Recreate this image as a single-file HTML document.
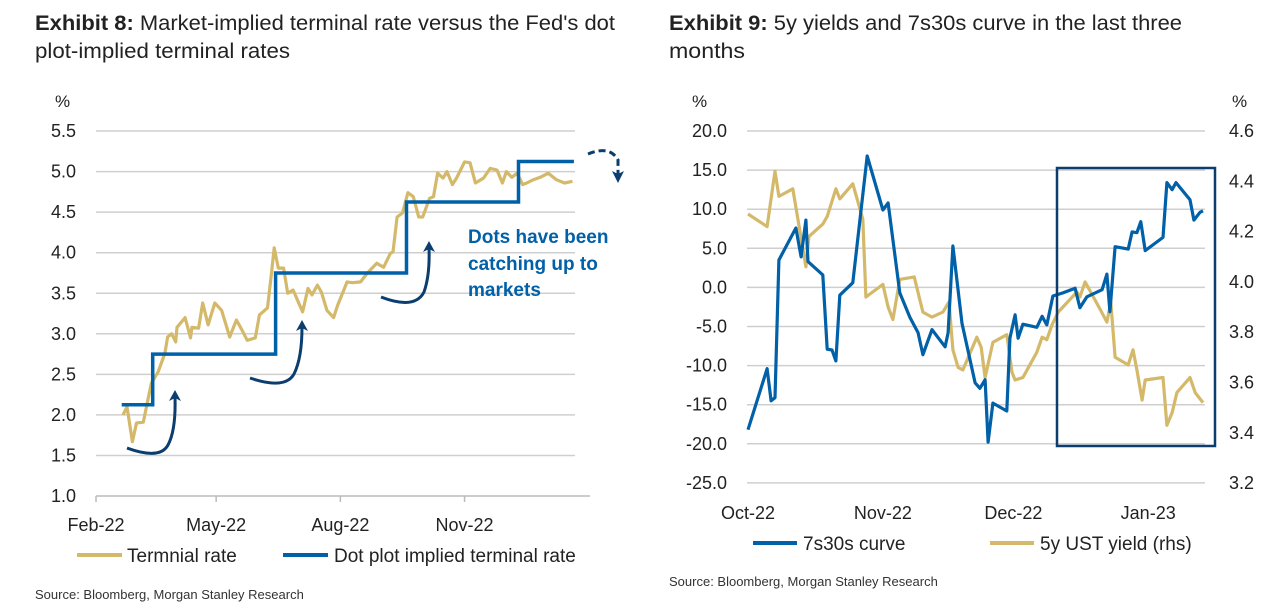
<!DOCTYPE html>
<html><head><meta charset="utf-8"><style>
body{margin:0;background:#fff;}
svg{display:block;font-family:"Liberation Sans Narrow","Liberation Sans",sans-serif;}
</style></head><body>
<svg id="c" width="1262" height="609" viewBox="0 0 1262 609">
<g fill="#222" font-size="21">
<text x="35" y="30" textLength="580" lengthAdjust="spacingAndGlyphs"><tspan font-weight="bold">Exhibit 8:</tspan>  Market-implied terminal rate versus the Fed's dot</text>
<text x="35" y="58" textLength="255" lengthAdjust="spacingAndGlyphs">plot-implied terminal rates</text>
</g>
<g fill="#222" font-size="21">
<text x="669" y="30" textLength="513" lengthAdjust="spacingAndGlyphs"><tspan font-weight="bold">Exhibit 9:</tspan>  5y yields and 7s30s curve in the last three</text>
<text x="669" y="58" textLength="76" lengthAdjust="spacingAndGlyphs">months</text>
</g>
<g id="left"></g>
<g id="right"></g>
<g font-size="19" fill="#222">
<line x1="77" y1="555" x2="122" y2="555" stroke="#d4b96a" stroke-width="4"/>
<text x="127" y="562">Termnial rate</text>
<line x1="283" y1="555" x2="328" y2="555" stroke="#0060a8" stroke-width="4"/>
<text x="334" y="562">Dot plot implied terminal rate</text>
</g>
<g font-size="19" fill="#222">
<line x1="753" y1="543" x2="797" y2="543" stroke="#0060a8" stroke-width="4"/>
<text x="803" y="550">7s30s curve</text>
<line x1="990" y1="543" x2="1034" y2="543" stroke="#d4b96a" stroke-width="4"/>
<text x="1040" y="550">5y UST yield (rhs)</text>
</g>
<text x="35" y="599" font-size="13" fill="#333">Source: Bloomberg, Morgan Stanley Research</text>
<text x="669" y="586" font-size="13" fill="#333">Source: Bloomberg, Morgan Stanley Research</text>
</svg>
<script>
// Left chart data (days since 1 Feb 2022)
const lTicks=[1.0,1.5,2.0,2.5,3.0,3.5,4.0,4.5,5.0,5.5];
const lMonths=["Feb-22","May-22","Aug-22","Nov-22"];
const lMonthDays=[0,89,181,273];
const termDays=[20,23,27,30,35,41,46,51,53,56,59,60,66,70,71,76,79,83,88,93,99,104,108,112,118,121,127,130,132,135,139,142,146,153,157,160,164,167,171,176,179,186,190,196,201,208,213,218,220,223,227,231,235,239,242,247,250,253,257,260,264,267,273,277,281,287,292,297,301,304,308,312,316,319,324,329,335,341,347,353];
const termVals=[2.0,2.1,1.67,1.9,1.91,2.39,2.53,2.76,2.96,3.0,2.9,3.08,3.2,2.95,3.08,3.07,3.38,3.11,3.38,3.29,2.96,3.17,3.05,2.92,2.95,3.23,3.32,3.75,4.06,3.81,3.81,3.5,3.54,3.27,3.56,3.48,3.6,3.51,3.29,3.2,3.35,3.64,3.63,3.64,3.75,3.87,3.82,3.99,4.01,4.44,4.49,4.74,4.69,4.44,4.44,4.67,4.69,4.98,4.92,5.0,4.84,4.92,5.12,5.11,4.86,4.92,5.04,5.02,4.86,5.0,4.93,4.98,4.84,4.86,4.9,4.93,4.98,4.9,4.86,4.88];
const dotDays=[19,42,133,230,313,354];
const dotVals=[2.125,2.75,3.75,4.625,5.125];
// Right chart data (days since 1 Oct 2022)
const rLeftTicks=[20,15,10,5,0,-5,-10,-15,-20,-25];
const rRightTicks=[4.6,4.4,4.2,4.0,3.8,3.6,3.4,3.2];
const rMonths=["Oct-22","Nov-22","Dec-22","Jan-23"];
const rMonthDays=[0,31,61,92];
const curveDays=[0,4.4,5.3,6.2,7.1,11,12.2,13.3,13.8,17.2,18.2,19.3,20.2,21.1,24.1,27.4,31,32.2,34.9,37.2,39.1,40.2,42.3,45.3,46,47.1,49.2,52.2,53.3,54.5,55.2,56.3,59.5,60.2,61.4,62.1,63.2,66.4,67.6,68.7,70.1,72.4,75.2,76.3,77.9,81.4,82.5,83.2,84.4,87.4,88.3,89.4,90.3,91.3,95.4,96.3,97.5,98.4,101.6,102.5,103.9,104.6];
const curveVals=[-18.2,-10.4,-14.5,-14.1,3.5,7.6,3.9,8.6,3.3,1.6,-7.9,-8.0,-9.4,-1.0,0.6,16.8,9.9,10.8,-0.7,-3.8,-5.8,-8.6,-5.4,-7.6,-5.8,5.3,-4.6,-12.2,-12.9,-11.8,-19.8,-14.8,-15.8,-6.5,-3.5,-6.5,-4.7,-5.1,-3.7,-4.8,-1.1,-0.7,-0.1,-2.6,-1.2,-0.3,1.7,-3.1,5.2,4.9,7.1,7.0,8.4,4.7,6.4,13.4,12.5,13.4,11.2,8.6,9.6,9.8];
const yieldDays=[0,4.4,6.2,7.1,10.3,13.3,14,17.2,18.2,20.2,21.1,24.1,26.4,27.1,31,32.2,33.3,34.9,38.2,40.2,42.3,44.8,46.2,47.1,48.3,49.4,52.6,53.6,54.5,56.3,59.5,60.7,61.4,63.2,66.4,67.6,68.7,69.9,71.3,75.6,76.3,77.5,81,82.5,83.4,84.4,87.4,88.5,89.4,90.6,91.3,95.4,96.3,97.5,98.6,101.6,102.8,104.6];
const yieldVals=[4.27,4.22,4.44,4.34,4.37,4.06,4.18,4.23,4.26,4.37,4.33,4.39,4.25,3.94,3.99,3.9,3.85,4.01,4.02,3.88,3.86,3.88,3.92,3.73,3.66,3.65,3.78,3.74,3.62,3.76,3.79,3.64,3.61,3.62,3.72,3.78,3.77,3.83,3.88,3.96,3.94,4.0,3.89,3.84,3.92,3.7,3.67,3.73,3.65,3.53,3.61,3.62,3.43,3.48,3.56,3.62,3.56,3.52];

const NS="http://www.w3.org/2000/svg";
function mk(parent,tag,attrs){const e=document.createElementNS(NS,tag);for(const k in attrs)e.setAttribute(k,attrs[k]);parent.appendChild(e);return e;}

// Left chart
const L=document.getElementById('left');
const lx=d=>96+d*1.35;
const ly=v=>496-(v-1)*81.1;
lTicks.forEach(t=>{
  if(t>1){const g=mk(L,'line',{x1:96,x2:575,y1:ly(t),y2:ly(t),stroke:'#cfcfcf','stroke-width':1.5});
  
  }
  const tx=mk(L,'text',{x:76,y:ly(t)+6,'text-anchor':'end','font-size':18,fill:'#222'});
  tx.textContent=t.toFixed(1);
  
  
});
let pct=mk(L,'text',{x:55,y:107,'font-size':17,fill:'#222'});pct.textContent='%';


let ax=mk(L,'line',{x1:96,x2:590,y1:496,y2:496,stroke:'#bbb','stroke-width':1.5});


lMonths.forEach((m,i)=>{
  const x=lx(lMonthDays[i]);
  const tk=mk(L,'line',{x1:x,x2:x,y1:496,y2:502,stroke:'#bbb','stroke-width':1.5});
  
  
  const t=mk(L,'text',{x:x,y:531,'text-anchor':'middle','font-size':18,fill:'#222'});t.textContent=m;
  
  
});
let p=termDays.map((d,i)=>(i?'L':'M')+lx(d).toFixed(1)+','+ly(termVals[i]).toFixed(1)).join('');
let tl=mk(L,'path',{d:p,fill:'none',stroke:'#d4b96a','stroke-width':3.2,'stroke-linejoin':'round'});


let dp='';
dotVals.forEach((v,i)=>{dp+=(i?'L':'M')+lx(dotDays[i]).toFixed(1)+','+ly(v).toFixed(1)+'L'+lx(dotDays[i+1]).toFixed(1)+','+ly(v).toFixed(1);});
let dl=mk(L,'path',{d:dp,fill:'none',stroke:'#0060a8','stroke-width':3.5});


// annotations
[["M127,448 Q160,460 168,445 Q176,430 175,397",175,390],["M250,378 Q285,390 294,374 Q302,358 302,327",302,320],["M381,297 Q415,310 424,292 Q430,275 429,248",429,241]].forEach(a=>{
  const pa=mk(L,'path',{d:a[0],fill:'none',stroke:'#0b3d6e','stroke-width':3});
  
  
  mk(L,'path',{d:`M${a[1]-6},${a[2]+11}L${a[1]},${a[2]}L${a[1]+6},${a[2]+11}L${a[1]},${a[2]+8}Z`,fill:'#0b3d6e'});
});
let da=mk(L,'path',{d:'M588,154 Q610,145 618,160 L618,174',fill:'none',stroke:'#0b3d6e','stroke-width':3,'stroke-dasharray':'7,4'});


mk(L,'path',{d:'M612,171L618,183L624,171L618,174Z',fill:'#0b3d6e'});
const note=mk(L,'text',{x:468,'font-size':19,'font-weight':'bold',fill:'#0060a8'});


[['Dots have been',243],['catching up to',270],['markets',296]].forEach(s=>{const t=mk(note,'tspan',{x:468,y:s[1]});t.textContent=s[0];});

// Right chart
const R=document.getElementById('right');
const rx=d=>748+d*4.35;
const ryl=v=>131+(20-v)*39.1/5;
const ryr=v=>131+(4.6-v)*50.3/0.2;
rLeftTicks.forEach(t=>{
  const g=mk(R,'line',{x1:747,x2:1205,y1:ryl(t),y2:ryl(t),stroke:'#cfcfcf','stroke-width':1.5});
  
  
  const tx=mk(R,'text',{x:727,y:ryl(t)+6,'text-anchor':'end','font-size':18,fill:'#222'});tx.textContent=t.toFixed(1);
  
  
});
rRightTicks.forEach(t=>{
  const tx=mk(R,'text',{x:1229,y:ryr(t)+6,'font-size':18,fill:'#222'});tx.textContent=t.toFixed(1);
  
  
});
let p1=mk(R,'text',{x:692,y:107,'font-size':17,fill:'#222'});p1.textContent='%';


let p2=mk(R,'text',{x:1232,y:107,'font-size':17,fill:'#222'});p2.textContent='%';


rMonths.forEach((m,i)=>{
  const t=mk(R,'text',{x:rx(rMonthDays[i]),y:519,'text-anchor':'middle','font-size':18,fill:'#222'});t.textContent=m;
  
  
});
let yp=yieldDays.map((d,i)=>(i?'L':'M')+rx(d).toFixed(1)+','+ryr(yieldVals[i]).toFixed(1)).join('');
let yl=mk(R,'path',{d:yp,fill:'none',stroke:'#d4b96a','stroke-width':3.2,'stroke-linejoin':'round'});


let cp=curveDays.map((d,i)=>(i?'L':'M')+rx(d).toFixed(1)+','+ryl(curveVals[i]).toFixed(1)).join('');
let cl=mk(R,'path',{d:cp,fill:'none',stroke:'#0060a8','stroke-width':3.2,'stroke-linejoin':'round'});


let box=mk(R,'rect',{x:1057,y:168,width:158,height:278,fill:'none',stroke:'#0b3d6e','stroke-width':2.5});


</script>
</body></html>
